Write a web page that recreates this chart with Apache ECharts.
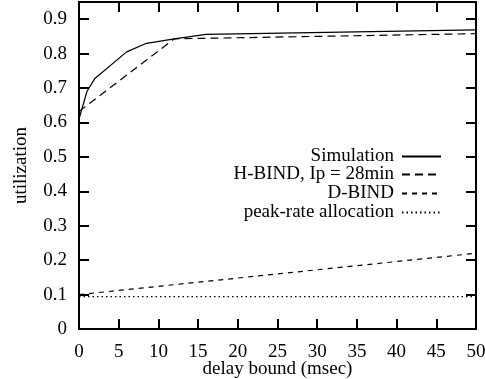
<!DOCTYPE html>
<html>
<head>
<meta charset="utf-8">
<script src="https://cdn.jsdelivr.net/npm/echarts@6/dist/echarts.min.js"></script>
<style>html,body{margin:0;padding:0;background:#fff}#c{width:485px;height:379px}</style>
</head>
<body>
<div id="c"></div>
<script>
const xTicks = [0, 5, 10, 15, 20, 25, 30, 35, 40, 45, 50];
const yTicks = [0, 0.1, 0.2, 0.3, 0.4, 0.5, 0.6, 0.7, 0.8, 0.9];
const seriesNames = ['Simulation', 'H-BIND, Ip = 28min', 'D-BIND', 'peak-rate allocation'];

const simDelay = [0, 1, 2, 6, 8.5, 12, 16, 50];
const simUtil  = [0.61, 0.69, 0.728, 0.805, 0.83, 0.843, 0.856, 0.869];

const hbindDelay = [0, 12, 50];
const hbindUtil  = [0.632, 0.843, 0.858];

const dbindDelay = [0, 10, 20, 30, 40, 50];
const dbindUtil  = [0.1, 0.124, 0.148, 0.172, 0.196, 0.22];

const peakDelay = [0, 50];
const peakUtil  = [0.094, 0.094];

const pairs = (xs, ys) => xs.map((x, i) => [x, ys[i]]);
const FONT = 'Liberation Serif';
const FS = 19;

const chart = echarts.init(document.getElementById('c'), null, {renderer: 'canvas'});

const axisCommon = {
  axisLine: {show: true, onZero: false, lineStyle: {color: '#000', width: 2}},
  axisTick: {show: true, inside: true, length: 10, lineStyle: {color: '#000', width: 2}},
  splitLine: {show: false}
};

const dashes = ['solid', [8, 5], [5, 5], [1.5, 3]];
const allData = [pairs(simDelay, simUtil), pairs(hbindDelay, hbindUtil), pairs(dbindDelay, dbindUtil), pairs(peakDelay, peakUtil)];

const series = seriesNames.map((n, i) => ({
  name: n, type: 'line', symbol: 'none', data: allData[i],
  lineStyle: {color: '#000', width: 1.2, type: dashes[i]},
  itemStyle: {color: '#000'},
  animation: false
}));

const legendTops = [147, 165, 184, 203];
const legends = seriesNames.map((n, i) => ({
  data: [n], right: 43, top: legendTops[i], align: 'right', orient: 'vertical',
  itemWidth: 39, itemHeight: 14, padding: 0,
  itemStyle: {opacity: 0},
  textStyle: {fontFamily: FONT, fontSize: FS, color: '#000', padding: [0, 3, 0, 0]},
  selectedMode: false
}));

chart.setOption({
  animation: false,
  backgroundColor: '#fff',
  grid: {left: 79, right: 9, top: 2, bottom: 50, containLabel: false, outerBoundsMode: 'none'},
  legend: legends,
  xAxis: [
    Object.assign({}, axisCommon, {
      type: 'value', min: 0, max: 50, interval: 5, position: 'bottom',
      name: 'delay bound (msec)', nameLocation: 'middle', nameGap: 31, nameMoveOverlap: false,
      nameTextStyle: {fontFamily: FONT, fontSize: FS, color: '#000'},
      axisLabel: {fontFamily: FONT, fontSize: FS, color: '#000', margin: 14}
    }),
    Object.assign({}, axisCommon, {
      type: 'value', min: 0, max: 50, interval: 5, position: 'top',
      axisLabel: {show: false}
    })
  ],
  yAxis: [
    Object.assign({}, axisCommon, {
      type: 'value', min: 0, max: 0.95, interval: 0.1, position: 'left',
      name: 'utilization', nameLocation: 'middle', nameGap: 48, nameMoveOverlap: false,
      nameTextStyle: {fontFamily: FONT, fontSize: FS, color: '#000'},
      axisLabel: {fontFamily: FONT, fontSize: FS, color: '#000', margin: 12,
        formatter: v => (v > 0.91 ? '' : String(Math.round(v * 10) / 10))}
    }),
    Object.assign({}, axisCommon, {
      type: 'value', min: 0, max: 0.95, interval: 0.1, position: 'right',
      axisLabel: {show: false}
    })
  ],
  series: series
});
</script>
</body>
</html>
